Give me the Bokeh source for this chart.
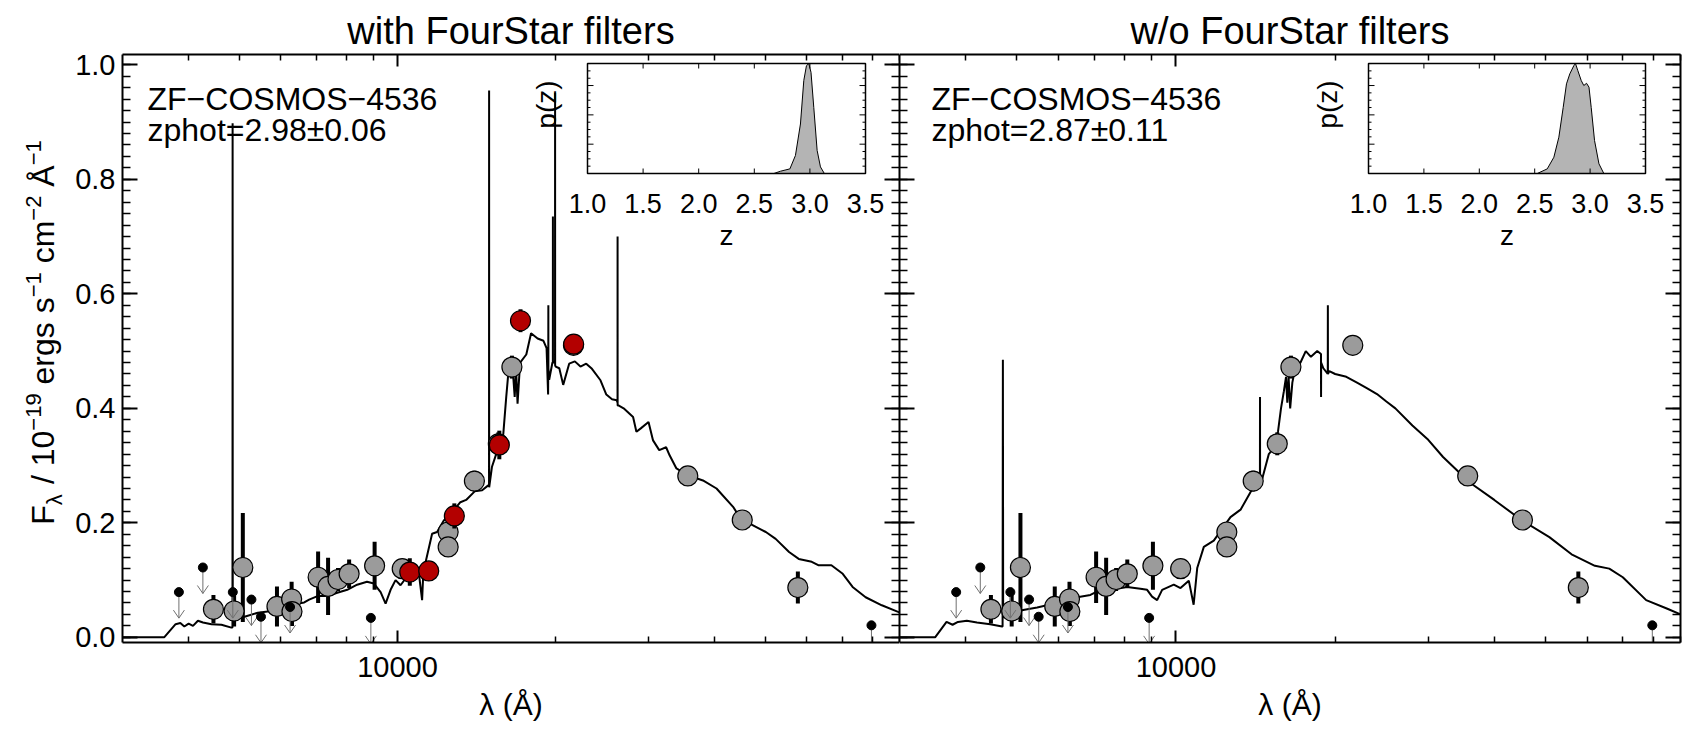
import math
from bokeh.plotting import figure
from bokeh.models import (Range1d, LinearScale, LogAxis, LinearAxis, FixedTicker,
                          PrintfTickFormatter, Title, Grid)
from bokeh.layouts import row
from bokeh.embed import file_html
from bokeh.resources import INLINE
from bokeh.core.properties import value

FONT = "Liberation Sans"

# ---------------------------------------------------------------- data
panel_titles = ["with FourStar filters", "w/o FourStar filters"]
object_name = "ZF\u2212COSMOS\u22124536"
zphot_text = ["zphot=2.98\u00b10.06", "zphot=2.87\u00b10.11"]
x_label = "\u03bb (\u00c5)"
x_major_ticks = [10000]
x_minor_ticks = [4000, 5000, 6000, 7000, 8000, 9000,
                 20000, 30000, 40000, 50000, 60000, 70000, 80000, 90000]
y_major_ticks = [0.0, 0.2, 0.4, 0.6, 0.8, 1.0]
y_minor_ticks = [round(0.02 * i, 2) for i in range(51)]
z_ticks = [1.0, 1.5, 2.0, 2.5, 3.0, 3.5]
z_tick_labels = ["1.0", "1.5", "2.0", "2.5", "3.0", "3.5"]

# photometry (shared by both panels)
gray_wave = [4467, 4890, 5080, 5899, 6290, 6300, 7063, 7378, 7706, 8090, 9045,
             10207, 12480, 12480, 14000, 15546, 16498, 21600, 35630, 45220, 57680]
gray_flux = [0.049, 0.046, 0.122, 0.054, 0.067, 0.045, 0.105, 0.089, 0.101, 0.111, 0.125,
             0.120, 0.184, 0.158, 0.273, 0.338, 0.472, 0.510, 0.282, 0.205, 0.087]
gray_err = [0.025, 0.027, 0.095, 0.035, 0.030, 0.025, 0.045, 0.050, 0.020, 0.025, 0.042,
            0.015, 0.012, 0.012, 0.018, 0.020, 0.020, 0.012, 0.008, 0.008, 0.028]

# FourStar photometry (left panel only)
red_wave = [10551, 11463, 12823, 15613, 17130, 21620]
red_flux = [0.114, 0.116, 0.212, 0.336, 0.553, 0.512]
red_err = [0.024, 0.012, 0.022, 0.025, 0.020, 0.015]

# upper limits
ul_wave = [3840, 4265, 4862, 5275, 5500, 6247, 8898, 79600]
ul_flux = [0.079, 0.122, 0.079, 0.066, 0.036, 0.053, 0.034, 0.021]

# best-fit model, with FourStar (z=2.98)
model_left_wave = [3000, 3600, 3785, 3864, 3933, 4007, 4084, 4174, 4267, 4428, 4626, 4832,
                   4855, 4858, 4861, 4896, 5118, 5425, 5665, 6005, 6363, 6647, 6791, 7045,
                   7357, 7682, 8023, 8378, 8748, 9017, 9286, 9490, 9700, 9913, 10131, 10400,
                   10737, 11000, 11135, 11200, 11297, 11633, 11890, 12244, 12600, 13166, 13502,
                   14018, 14482, 14854, 14925, 14930, 14935, 15120, 15400, 15886, 16093, 16300,
                   16550, 16700, 16800, 16910, 17100, 17570, 17940, 18460, 18940, 19200, 19330,
                   19345, 19350, 19355, 19420, 19700, 19735, 19740, 19745, 19800, 19925, 19930,
                   19935, 19980, 20300, 20650, 21197, 21730, 22270, 22840, 23420, 24310, 24940,
                   25570, 26100, 26195, 26200, 26205, 26300, 26900, 28040, 28450, 29000, 30000,
                   30600, 31440, 32400, 32900, 33900, 35630, 38070, 40400, 43440, 45000, 47300,
                   50140, 52340, 55500, 57900, 61300, 63060, 66800, 70200, 73300, 77600, 83300,
                   89700, 95000]
model_left_flux = [0.000, 0.000, 0.023, 0.025, 0.019, 0.024, 0.020, 0.029, 0.026, 0.023, 0.022, 0.017,
                   0.017, 0.898, 0.030, 0.034, 0.036, 0.043, 0.045, 0.053, 0.058, 0.061, 0.066, 0.072,
                   0.072, 0.078, 0.083, 0.092, 0.097, 0.094, 0.079, 0.059, 0.083, 0.100, 0.091, 0.105,
                   0.117, 0.105, 0.065, 0.118, 0.130, 0.181, 0.184, 0.204, 0.215, 0.236, 0.240,
                   0.255, 0.257, 0.265, 0.265, 0.955, 0.262, 0.298, 0.320, 0.355, 0.420, 0.478,
                   0.470, 0.420, 0.470, 0.408, 0.480, 0.494, 0.531, 0.522, 0.518, 0.505, 0.424,
                   0.480, 0.580, 0.470, 0.450, 0.480, 0.480, 0.735, 0.480, 0.480, 0.480, 0.951,
                   0.475, 0.473, 0.470, 0.441, 0.478, 0.482, 0.473, 0.478, 0.469, 0.449, 0.424,
                   0.416, 0.414, 0.410, 0.700, 0.405, 0.405, 0.400, 0.385, 0.359, 0.365, 0.376,
                   0.344, 0.327, 0.332, 0.318, 0.295, 0.283, 0.274, 0.260, 0.228, 0.206, 0.196,
                   0.184, 0.172, 0.149, 0.137, 0.132, 0.126, 0.126, 0.111, 0.088, 0.070, 0.056,
                   0.044, 0.038]

# best-fit model, without FourStar (z=2.87)
model_right_wave = [3000, 3503, 3682, 3780, 3870, 4022, 4204, 4453, 4690, 4700, 4706, 4712,
                    4933, 5078, 5464, 5700, 6220, 6590, 6890, 7194, 7625, 8083, 8566, 8820,
                    9012, 9213, 9416, 9905, 10200, 10575, 10800, 10970, 11290, 11790, 12680,
                    13250, 13840, 14300, 14415, 14420, 14425, 14560, 14980, 15300, 15600, 15800,
                    16000, 16150, 16240, 16330, 16444, 16600, 16800, 17200, 17600, 18000, 18500,
                    18805, 18812, 18819, 19000, 19370, 19377, 19384, 19500, 20000, 21000, 22000,
                    23000, 24000, 25000, 26000, 28000, 30000, 32000, 34150, 36000, 40000, 45000,
                    50840, 56000, 62000, 66000, 70000, 77500, 85000, 90000, 95000]
model_right_flux = [0.000, 0.000, 0.027, 0.022, 0.027, 0.029, 0.026, 0.023, 0.019, 0.019, 0.485, 0.035,
                    0.042, 0.047, 0.052, 0.056, 0.065, 0.071, 0.074, 0.083, 0.084, 0.088, 0.085, 0.083,
                    0.071, 0.065, 0.083, 0.092, 0.086, 0.099, 0.057, 0.121, 0.158, 0.169, 0.210,
                    0.223, 0.254, 0.270, 0.270, 0.420, 0.275, 0.277, 0.320, 0.330, 0.360, 0.400,
                    0.430, 0.455, 0.410, 0.455, 0.400, 0.445, 0.470, 0.480, 0.500, 0.490, 0.500,
                    0.495, 0.420, 0.480, 0.470, 0.460, 0.580, 0.460, 0.465, 0.460, 0.455, 0.445,
                    0.435, 0.425, 0.412, 0.400, 0.370, 0.345, 0.315, 0.290, 0.270, 0.240, 0.205,
                    0.175, 0.145, 0.125, 0.120, 0.105, 0.065, 0.050, 0.040, 0.036]

# redshift probability distributions
pz_left_z = [1.0, 2.676, 2.736, 2.82, 2.87, 2.915, 2.945, 2.969, 2.99, 3.01, 3.035, 3.065, 3.095, 3.13, 3.5]
pz_left_p = [0.0, 0.0, 0.021, 0.042, 0.164, 0.45, 0.845, 0.98, 1.0, 0.92, 0.60, 0.21, 0.06, 0.0, 0.0]
pz_right_z = [1.0, 2.523, 2.613, 2.673, 2.718, 2.757, 2.787, 2.817, 2.853, 2.868, 2.889, 2.92,
              2.943, 2.968, 2.99, 3.01, 3.04, 3.08, 3.124, 3.5]
pz_right_p = [0.0, 0.0, 0.042, 0.148, 0.33, 0.60, 0.815, 0.906, 0.98, 1.0, 0.936, 0.845,
              0.80, 0.82, 0.785, 0.60, 0.30, 0.088, 0.0, 0.0]

# ---------------------------------------------------------------- layout
PAGE_W, PAGE_H = 1686, 730
LABEL_W = 68
FRAME_TOP, FRAME_BOT = 54, 642
FH = FRAME_BOT - FRAME_TOP
LEFT_X0, MID_X, RIGHT_X1 = 122, 899, 1680
X_RANGE = (3000, 90000)
Y_RANGE = (-0.009, 1.018)

GRAY = "#9b9b9b"
RED = "#b30000"
PZ_FILL = "#b4b4b4"
ARROW = "#707070"
MID = 0.347   # distance baseline -> "middle" anchor, in units of font size


def style_axis(ax, show_labels, major_in, minor_in, standoff=7):
    ax.axis_line_width = 2
    ax.axis_line_color = "black"
    ax.major_tick_in = major_in
    ax.major_tick_out = 0
    ax.minor_tick_in = minor_in
    ax.minor_tick_out = 0
    ax.major_tick_line_width = 2
    ax.minor_tick_line_width = 1.5
    ax.major_tick_line_color = "black"
    ax.minor_tick_line_color = "black"
    ax.major_label_text_font = FONT
    if show_labels:
        ax.major_label_text_color = "black"
        ax.major_label_text_font_size = "29px"
        ax.major_label_standoff = standoff
    else:
        ax.major_label_text_color = None
        ax.major_label_text_font_size = "1px"
        ax.major_label_standoff = 0


def build_panel(k, frame_w, border_left, border_right, show_ylabels, model_w, model_f,
                show_red, pz_z, pz_p, box):
    p = figure(width=border_left + frame_w + border_right, height=PAGE_H,
               x_axis_type="log", x_range=Range1d(*X_RANGE), y_range=Range1d(*Y_RANGE),
               x_axis_location=None, y_axis_location=None,
               output_backend="svg", toolbar_location=None,
               min_border_left=border_left, min_border_right=border_right,
               min_border_top=FRAME_TOP, min_border_bottom=PAGE_H - FRAME_BOT,
               outline_line_color=None, background_fill_color="white",
               border_fill_color="white")
    for g in p.select(type=Grid):
        g.visible = False

    # inset coordinate systems
    bx0, by0, bx1, by1 = box
    dz = (z_ticks[-1] - z_ticks[0]) / (bx1 - bx0)
    dp = 1.0 / (by1 - by0)
    p.extra_x_ranges = {
        "px": Range1d(0, frame_w),
        "z": Range1d(z_ticks[0] - bx0 * dz, z_ticks[-1] + (frame_w - bx1) * dz),
    }
    p.extra_y_ranges = {
        "py": Range1d(FH, 0),
        "p": Range1d(-(FH - by1) * dp, 1.0 + by0 * dp),
    }
    p.extra_x_scales = {"px": LinearScale(), "z": LinearScale()}
    p.extra_y_scales = {"py": LinearScale(), "p": LinearScale()}

    # axes
    xt = FixedTicker(ticks=x_major_ticks, minor_ticks=x_minor_ticks)
    yt = FixedTicker(ticks=y_major_ticks, minor_ticks=y_minor_ticks)
    bottom = LogAxis(ticker=xt, formatter=PrintfTickFormatter(format="%d"), axis_label=x_label)
    style_axis(bottom, True, 12, 6, standoff=14)
    bottom.axis_label_text_font = FONT
    bottom.axis_label_text_font_size = "30px"
    bottom.axis_label_text_font_style = "normal"
    bottom.axis_label_text_color = "black"
    bottom.axis_label_standoff = 8
    top = LogAxis(ticker=xt)
    style_axis(top, False, 12, 6)
    left = LinearAxis(ticker=yt, formatter=PrintfTickFormatter(format="%.1f"))
    style_axis(left, show_ylabels, 15, 8)
    right = LinearAxis(ticker=yt)
    style_axis(right, False, 15, 8)
    p.add_layout(bottom, "below")
    p.add_layout(top, "above")
    p.add_layout(left, "left")
    p.add_layout(right, "right")
    p.add_layout(Title(text=panel_titles[k], align="center", text_font=FONT,
                       text_font_size="38px", text_font_style="normal",
                       text_color="black", standoff=6), "above")

    # model
    p.line(model_w, model_f, line_color="black", line_width=2)

    # photometry
    gy0 = [f - e for f, e in zip(gray_flux, gray_err)]
    gy1 = [f + e for f, e in zip(gray_flux, gray_err)]
    p.segment(x0=gray_wave, y0=gy0, x1=gray_wave, y1=gy1, line_color="black", line_width=4)
    p.scatter(gray_wave, gray_flux, size=20, fill_color=GRAY, line_color="black", line_width=1.2)
    if show_red:
        ry0 = [f - e for f, e in zip(red_flux, red_err)]
        ry1 = [f + e for f, e in zip(red_flux, red_err)]
        p.segment(x0=red_wave, y0=ry0, x1=red_wave, y1=ry1, line_color="black", line_width=4)
        p.scatter(red_wave, red_flux, size=20, fill_color=RED, line_color="black", line_width=1.2)

    # upper limits: dot + thin arrow (clipped to the frame)
    dec_px = frame_w / math.log10(X_RANGE[1] / X_RANGE[0])
    y_px = FH / (Y_RANGE[1] - Y_RANGE[0])
    L = 26 / y_px
    hh = 8 / y_px
    hw = 10 ** (5.5 / dec_px)
    tip = [f - L for f in ul_flux]
    p.segment(x0=ul_wave, y0=ul_flux, x1=ul_wave, y1=tip, line_color=ARROW, line_width=1)
    p.segment(x0=ul_wave, y0=tip, x1=[w / hw for w in ul_wave], y1=[t + hh for t in tip],
              line_color=ARROW, line_width=1)
    p.segment(x0=ul_wave, y0=tip, x1=[w * hw for w in ul_wave], y1=[t + hh for t in tip],
              line_color=ARROW, line_width=1)
    p.scatter(ul_wave, ul_flux, size=9, fill_color="black", line_color="black")

    # labels (centre positions, in frame pixels)
    tx = 25 if k == 0 else 32
    p.text(x=[tx, tx], y=[44, 75], text=[object_name, zphot_text[k]],
           x_range_name="px", y_range_name="py", text_font=value(FONT),
           text_font_size="32px", text_align="left", text_baseline="middle",
           text_color="black")

    # inset p(z)
    zr, pr = "z", "p"
    p.quad(left=[z_ticks[0]], right=[z_ticks[-1]], bottom=[0], top=[1.0], fill_color="white",
           line_color=None, x_range_name=zr, y_range_name=pr)
    p.varea(x=pz_z, y1=[0.0] * len(pz_z), y2=pz_p, fill_color=PZ_FILL,
            x_range_name=zr, y_range_name=pr)
    p.line(pz_z, pz_p, line_color="black", line_width=1, x_range_name=zr, y_range_name=pr)
    tz0, tz1, ty0, ty1 = [], [], [], []
    for z in z_ticks:
        tz0 += [z, z]; tz1 += [z, z]
        ty0 += [0.0, 1.0]; ty1 += [5 * dp, 1.0 - 5 * dp]
    step = 7.33 * dp
    n = 0
    while n * step < 1.0:
        yv = n * step
        ln = 6 if n % 4 == 0 else 3
        tz0 += [z_ticks[0], z_ticks[-1]]
        tz1 += [z_ticks[0] + ln * dz, z_ticks[-1] - ln * dz]
        ty0 += [yv, yv]; ty1 += [yv, yv]
        n += 1
    p.segment(x0=tz0, y0=ty0, x1=tz1, y1=ty1, line_color="black", line_width=1,
              x_range_name=zr, y_range_name=pr)
    p.quad(left=[z_ticks[0]], right=[z_ticks[-1]], bottom=[0], top=[1.0], fill_color=None,
           line_color="black", line_width=1.5, x_range_name=zr, y_range_name=pr)
    p.text(x=z_ticks, y=[0.0] * len(z_ticks), text=z_tick_labels, y_offset=30,
           x_range_name=zr, y_range_name=pr, text_font=value(FONT), text_font_size="27px",
           text_align="center", text_baseline="middle", text_color="black")
    p.text(x=[(z_ticks[0] + z_ticks[-1]) / 2], y=[0.0], text=["z"], y_offset=62,
           x_range_name=zr, y_range_name=pr, text_font=value(FONT), text_font_size="28px",
           text_align="center", text_baseline="middle", text_color="black")
    p.text(x=[z_ticks[0]], y=[0.627], text=["p(z)"], x_offset=-41, angle=math.pi / 2,
           x_range_name=zr, y_range_name=pr, text_font=value(FONT), text_font_size="28px",
           text_align="center", text_baseline="middle", text_color="black")
    return p


left_fig = build_panel(0, MID_X - LEFT_X0, LEFT_X0 - LABEL_W, 0, True,
                       model_left_wave, model_left_flux, True, pz_left_z, pz_left_p,
                       (465, 9, 743, 119))
right_fig = build_panel(1, RIGHT_X1 - MID_X, 0, PAGE_W - RIGHT_X1, False,
                        model_right_wave, model_right_flux, False, pz_right_z, pz_right_p,
                        (469, 9, 746, 119))

# ---------------------------------------------------------------- y-axis label (composite)
# frame aligned with the panels' frames -> y in page pixels
lab = figure(width=LABEL_W, height=PAGE_H, x_range=Range1d(0, LABEL_W),
             y_range=Range1d(FRAME_BOT, FRAME_TOP), x_axis_location=None, y_axis_location=None,
             output_backend="svg", toolbar_location=None, min_border_left=0,
             min_border_right=0, min_border_top=FRAME_TOP,
             min_border_bottom=PAGE_H - FRAME_BOT,
             outline_line_color=None, background_fill_color="white", border_fill_color="white")
for g in lab.select(type=Grid):
    g.visible = False

CW = {' ': 278, '/': 278, '0': 556, '1': 556, '2': 556, '9': 556, 'e': 556, 'r': 333,
      'g': 556, 's': 500, 'c': 500, 'm': 833, '\u00c5': 667, '\u2212': 584, 'F': 611,
      '\u03bb': 556}
M, S = 32, 22
# (text, size, baseline shift in units of M; negative = raised)
segments = [("F", M, 0.0), ("\u03bb", S, 0.25), (" / 10", M, 0.0), ("\u221219", S, -0.42),
            (" ergs s", M, 0.0), ("\u22121", S, -0.42), (" cm", M, 0.0), ("\u22122", S, -0.42),
            (" \u00c5", M, 0.0), ("\u22121", S, -0.42)]


def seg_w(t, sz):
    return sum(CW[c] for c in t) * sz / 1000


total = sum(seg_w(t, sz) for t, sz, _ in segments)
baseline_x = 54
ycur = 332 + total / 2
for t, sz, sh in segments:
    pos = ycur
    xa = baseline_x + sh * M - MID * sz
    for word in t.split(" "):
        if word:
            lab.text(x=[xa], y=[pos], text=[word], angle=math.pi / 2,
                     text_font=value(FONT), text_font_size=f"{sz}px", text_align="left",
                     text_baseline="middle", text_color="black")
        pos -= seg_w(word + " ", sz)
    ycur -= seg_w(t, sz)

layout = row(lab, left_fig, right_fig)
open("out.html", "w").write(file_html(layout, INLINE))
